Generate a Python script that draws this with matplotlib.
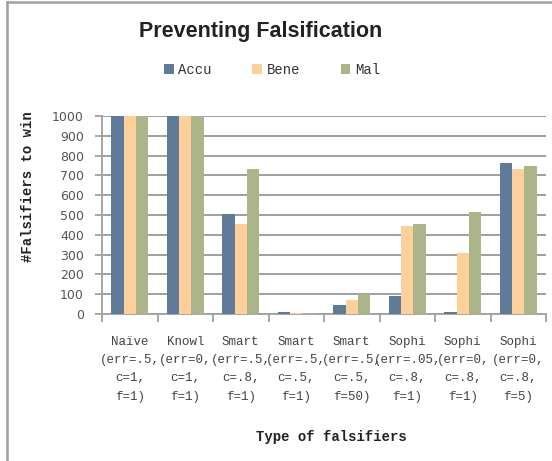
import matplotlib
matplotlib.use("Agg")
import matplotlib.pyplot as plt
from matplotlib.lines import Line2D
from matplotlib.patches import Patch
import numpy as np

categories = [
    "Naïve\n(err=.5,\nc=1,\nf=1)",
    "Knowl\n(err=0,\nc=1,\nf=1)",
    "Smart\n(err=.5,\nc=.8,\nf=1)",
    "Smart\n(err=.5,\nc=.5,\nf=1)",
    "Smart\n(err=.5,\nc=.5,\nf=50)",
    "Sophi\n(err=.05,\nc=.8,\nf=1)",
    "Sophi\n(err=0,\nc=.8,\nf=1)",
    "Sophi\n(err=0,\nc=.8,\nf=5)",
]
series_names = ["Accu", "Bene", "Mal"]
accu = [1000, 1000, 505, 8, 43, 90, 8, 762]
bene = [1000, 1000, 456, 6, 69, 442, 307, 730]
mal = [1000, 1000, 730, 6, 100, 456, 514, 748]
yticks = [0, 100, 200, 300, 400, 500, 600, 700, 800, 900, 1000]

colors = ["#607A9A", "#FDD09B", "#ACB489"]
mono = "Liberation Mono"

fig = plt.figure(figsize=(5.52, 4.61), dpi=100)
ax = fig.add_axes([102/552, 1-314/461, 444/552, 198/461])

x = np.arange(len(categories))
w = 1/4.5
for i, (vals, c) in enumerate(zip([accu, bene, mal], colors)):
    ax.bar(x + (i-1)*w, vals, width=w, color=c, zorder=3, label=series_names[i])

ax.set_xlim(-0.5, len(categories)-0.5)
ax.set_ylim(0, 1000)
ax.set_yticks(yticks)
ax.set_yticklabels([str(v) for v in yticks], fontfamily="DejaVu Sans", fontsize=9, color="#555555")
ax.yaxis.grid(True, color="#A0A0A0", linewidth=1.4, zorder=0)
ax.set_axisbelow(True)

ax.set_xticks(np.arange(-0.5, len(categories)), minor=False)
ax.set_xticklabels([])
ax.set_xticks(x, minor=True)
ax.set_xticklabels(categories, minor=True, fontfamily=mono, fontsize=9, color="#444444",
                   linespacing=1.68)
ax.tick_params(axis="x", which="minor", length=0, pad=16)
ax.tick_params(axis="x", which="major", length=6, width=1.3, color="#A0A0A0", direction="out")
ax.tick_params(axis="y", length=5, width=1.3, color="#A0A0A0", direction="out", pad=8)

for s in ["top", "right"]:
    ax.spines[s].set_visible(False)
for s in ["left", "bottom"]:
    ax.spines[s].set_color("#A0A0A0")
    ax.spines[s].set_linewidth(1.3)

fig.text(261/552, 1-31/461, "Preventing Falsification", ha="center", va="center",
         fontfamily="Liberation Sans", fontweight="bold", fontsize=15.5, color="#222222")

handles = [Patch(facecolor=c, edgecolor="none") for c in colors]
leg = fig.legend(handles, series_names, loc="center", bbox_to_anchor=(272/552, 1-70/461),
                 ncol=3, frameon=False, prop={"family": mono, "size": 10},
                 handlelength=0.7, handleheight=0.7, handletextpad=0.35, columnspacing=2.9)
for t in leg.get_texts():
    t.set_color("#333333")

fig.text(28/552, 1-187/461, "#Falsifiers to win", rotation=90, ha="center", va="center",
         fontfamily=mono, fontweight="bold", fontsize=10, color="#222222")
fig.text(331/552, 1-437/461, "Type of falsifiers", ha="center", va="center",
         fontfamily=mono, fontweight="bold", fontsize=10, color="#222222")

fig.add_artist(Line2D([7/552, 7/552], [0, 1-2/461], transform=fig.transFigure,
                      color="#A0A0A0", linewidth=1.8))
fig.add_artist(Line2D([7/552, 1], [1-2/461, 1-2/461], transform=fig.transFigure,
                      color="#A0A0A0", linewidth=1.8))

fig.savefig("out.png", dpi=100)
